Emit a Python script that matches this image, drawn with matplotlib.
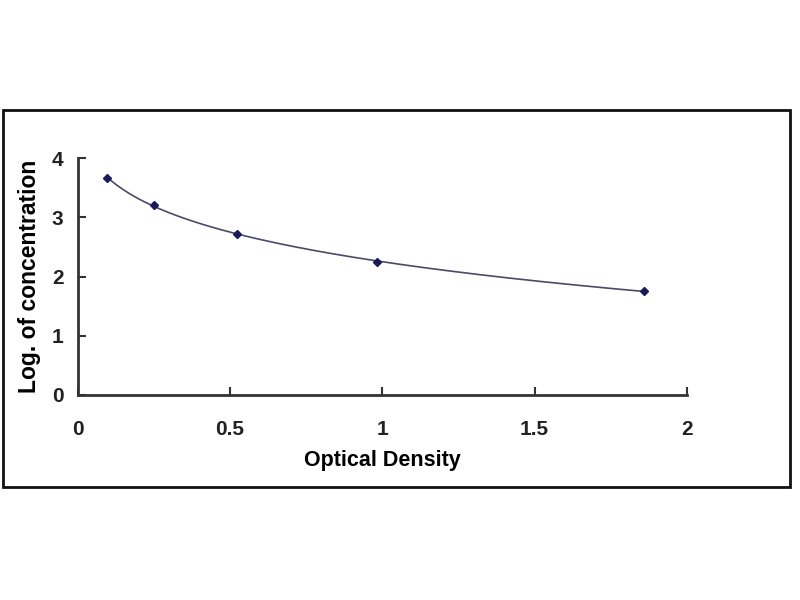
import matplotlib.pyplot as plt
import numpy as np
from matplotlib.patches import Rectangle

plt.rcParams['font.family'] = ['Liberation Sans', 'DejaVu Sans']

# standard curve points
optical_density = [0.097, 0.252, 0.522, 0.982, 1.859]
log_conc = [3.67, 3.20, 2.72, 2.24, 1.76]

x_ticks = [0, 0.5, 1, 1.5, 2]
x_tick_labels = ['0', '0.5', '1', '1.5', '2']
y_ticks = [0, 1, 2, 3, 4]

fig = plt.figure(figsize=(8, 6), dpi=100)
fig.patch.set_facecolor('white')

# outer frame around the chart
fig.patches.append(Rectangle((3 / 800, 113 / 600), 787 / 800, 377 / 600,
                             transform=fig.transFigure, fill=False,
                             edgecolor='#111111', linewidth=2))

ax = fig.add_axes([77.5 / 800, 205 / 600, 609.5 / 800, 237 / 600])

# smooth trendline fitted through the points (log fit)
coef = np.polyfit(np.log(optical_density), log_conc, 2)
xs = np.linspace(min(optical_density), max(optical_density), 200)
ax.plot(xs, np.polyval(coef, np.log(xs)), color='#4a4a6a', linewidth=1.2)
ax.plot(optical_density, log_conc, linestyle='none', marker='D',
        markersize=4.5, color='#1a1a5a')

ax.set_xlim(0, 2)
ax.set_ylim(0, 4)
ax.set_xticks(x_ticks)
ax.set_xticklabels(x_tick_labels)
ax.set_yticks(y_ticks)
ax.spines['top'].set_visible(False)
ax.spines['right'].set_visible(False)
for s in ['left', 'bottom']:
    ax.spines[s].set_linewidth(2)
    ax.spines[s].set_color('#333333')
ax.tick_params(direction='in', length=6, width=1.5, colors='#333333',
               labelcolor='#222222', labelsize=15)
ax.tick_params(axis='x', pad=18)
ax.tick_params(axis='y', pad=10)
for lab in ax.get_xticklabels() + ax.get_yticklabels():
    lab.set_fontweight('bold')

ax.set_xlabel('Optical Density', fontsize=15.5, fontweight='bold', labelpad=8)
ax.set_ylabel('Log. of concentration', fontsize=16.5, fontweight='bold', labelpad=8)

fig.savefig('out.png', dpi=100)
